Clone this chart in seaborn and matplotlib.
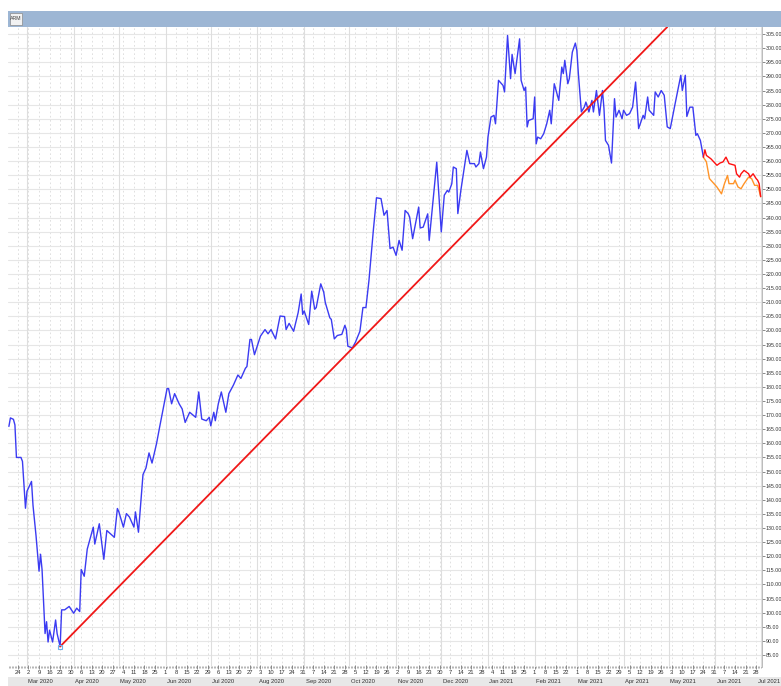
import numpy as np
import pandas as pd
import matplotlib
matplotlib.use('Agg')
import matplotlib.pyplot as plt
import matplotlib.dates as mdates
import matplotlib.ticker as mticker
from matplotlib import font_manager
from matplotlib.patches import Rectangle
from matplotlib.transforms import Bbox, TransformedBbox, blended_transform_factory
import seaborn as sns

# ---- data ----
blue_dates = [
    '2020-02-18', '2020-02-19', '2020-02-21', '2020-02-22', '2020-02-23', '2020-02-26', '2020-02-27', '2020-02-29',
    '2020-03-01', '2020-03-04', '2020-03-05', '2020-03-07', '2020-03-09', '2020-03-10', '2020-03-11', '2020-03-13',
    '2020-03-14', '2020-03-15', '2020-03-16', '2020-03-18', '2020-03-20', '2020-03-21', '2020-03-23', '2020-03-24',
    '2020-03-26', '2020-03-29', '2020-04-01', '2020-04-03', '2020-04-05', '2020-04-06', '2020-04-08', '2020-04-10',
    '2020-04-14', '2020-04-15', '2020-04-18', '2020-04-21', '2020-04-23', '2020-04-28', '2020-04-30', '2020-05-01',
    '2020-05-04', '2020-05-06', '2020-05-08', '2020-05-11', '2020-05-12', '2020-05-14', '2020-05-17', '2020-05-19',
    '2020-05-21', '2020-05-23', '2020-05-26', '2020-05-28', '2020-06-02', '2020-06-03', '2020-06-05', '2020-06-07',
    '2020-06-10', '2020-06-12', '2020-06-14', '2020-06-17', '2020-06-21', '2020-06-23', '2020-06-25', '2020-06-28',
    '2020-06-30', '2020-07-01', '2020-07-03', '2020-07-04', '2020-07-06', '2020-07-08', '2020-07-11', '2020-07-13',
    '2020-07-16', '2020-07-19', '2020-07-21', '2020-07-24', '2020-07-25', '2020-07-27', '2020-07-28', '2020-07-30',
    '2020-08-03', '2020-08-06', '2020-08-08', '2020-08-10', '2020-08-13', '2020-08-16', '2020-08-19', '2020-08-20',
    '2020-08-22', '2020-08-25', '2020-08-28', '2020-08-30', '2020-08-31', '2020-09-01', '2020-09-04', '2020-09-06',
    '2020-09-08', '2020-09-09', '2020-09-12', '2020-09-14', '2020-09-15', '2020-09-18', '2020-09-19', '2020-09-21',
    '2020-09-23', '2020-09-26', '2020-09-28', '2020-09-29', '2020-09-30', '2020-10-03', '2020-10-05', '2020-10-08',
    '2020-10-10', '2020-10-12', '2020-10-14', '2020-10-17', '2020-10-19', '2020-10-22', '2020-10-24', '2020-10-26',
    '2020-10-28', '2020-10-30', '2020-11-01', '2020-11-03', '2020-11-05', '2020-11-07', '2020-11-09', '2020-11-10',
    '2020-11-12', '2020-11-16', '2020-11-17', '2020-11-19', '2020-11-22', '2020-11-23', '2020-11-28', '2020-12-01',
    '2020-12-03', '2020-12-05', '2020-12-06', '2020-12-08', '2020-12-09', '2020-12-11', '2020-12-12', '2020-12-14',
    '2020-12-18', '2020-12-20', '2020-12-23', '2020-12-24', '2020-12-26', '2020-12-27', '2020-12-29', '2020-12-31',
    '2021-01-01', '2021-01-03', '2021-01-05', '2021-01-06', '2021-01-08', '2021-01-11', '2021-01-12', '2021-01-14',
    '2021-01-16', '2021-01-17', '2021-01-19', '2021-01-22', '2021-01-23', '2021-01-25', '2021-01-26', '2021-01-27',
    '2021-01-28', '2021-01-31', '2021-02-01', '2021-02-02', '2021-02-03', '2021-02-05', '2021-02-07', '2021-02-09',
    '2021-02-11', '2021-02-12', '2021-02-14', '2021-02-17', '2021-02-19', '2021-02-20', '2021-02-21', '2021-02-23',
    '2021-02-24', '2021-02-26', '2021-02-28', '2021-03-01', '2021-03-02', '2021-03-04', '2021-03-06', '2021-03-07',
    '2021-03-09', '2021-03-11', '2021-03-12', '2021-03-14', '2021-03-16', '2021-03-18', '2021-03-19', '2021-03-20',
    '2021-03-22', '2021-03-24', '2021-03-26', '2021-03-27', '2021-03-29', '2021-03-31', '2021-04-01', '2021-04-03',
    '2021-04-05', '2021-04-07', '2021-04-09', '2021-04-11', '2021-04-14', '2021-04-15', '2021-04-17', '2021-04-18',
    '2021-04-21', '2021-04-22', '2021-04-24', '2021-04-26', '2021-04-28', '2021-04-30', '2021-05-02', '2021-05-05',
    '2021-05-09', '2021-05-10', '2021-05-12', '2021-05-13', '2021-05-15', '2021-05-17', '2021-05-19', '2021-05-20',
    '2021-05-22', '2021-05-24',
]
blue_values = [
    166.0, 169.0, 168.5, 166.5, 155.0, 155.0, 153.6, 137.0,
    143.0, 146.5, 138.0, 127.3, 114.7, 120.7, 115.3, 92.6,
    96.8, 89.6, 93.8, 89.6, 97.4, 92.6, 88.0, 101.0,
    101.0, 102.2, 99.8, 101.6, 100.4, 115.3, 112.9, 122.5,
    130.3, 124.3, 131.5, 118.9, 129.1, 126.7, 136.9, 135.7,
    130.3, 135.1, 133.9, 130.3, 135.7, 128.5, 148.9, 151.3,
    156.6, 153.0, 159.9, 165.6, 179.4, 179.4, 174.0, 177.6,
    174.0, 172.2, 167.4, 171.0, 169.2, 178.2, 168.6, 168.0,
    169.2, 166.2, 171.0, 168.0, 174.0, 178.2, 171.0, 177.6,
    180.6, 184.2, 183.0, 186.6, 187.2, 196.8, 196.8, 191.4,
    198.0, 200.3, 198.8, 200.3, 197.0, 205.1, 204.9, 200.3,
    202.5, 199.7, 206.3, 212.9, 205.7, 206.9, 202.1, 213.9,
    207.5, 208.1, 216.5, 213.5, 209.9, 204.5, 203.9, 197.0,
    198.2, 198.6, 201.8, 200.3, 194.4, 193.8, 195.8, 199.7,
    208.1, 208.1, 217.7, 236.0, 247.0, 246.7, 240.8, 242.5,
    229.0, 229.5, 226.6, 231.9, 228.4, 242.5, 241.4, 240.2,
    232.5, 243.7, 236.3, 236.6, 241.3, 231.9, 259.6, 234.9,
    247.9, 249.6, 249.0, 252.0, 257.9, 257.3, 241.4, 249.6,
    263.8, 259.1, 259.1, 257.9, 259.1, 263.2, 257.3, 261.4,
    268.5, 275.6, 276.2, 273.2, 288.6, 286.8, 284.5, 304.5,
    289.2, 297.8, 291.0, 303.3, 288.6, 285.0, 286.2, 272.1,
    274.4, 275.0, 282.7, 266.1, 268.5, 267.9, 269.7, 273.2,
    278.0, 273.2, 287.4, 281.5, 293.3, 291.0, 295.7, 287.4,
    289.2, 298.6, 301.8, 299.2, 291.0, 277.4, 279.2, 280.9,
    277.4, 281.5, 277.4, 285.0, 276.2, 285.0, 278.6, 267.3,
    265.6, 259.3, 282.1, 275.6, 278.0, 275.0, 278.0, 276.2,
    276.8, 279.1, 288.0, 271.5, 276.2, 275.0, 282.7, 278.0,
    276.2, 284.5, 282.7, 285.0, 283.3, 272.1, 271.5, 279.7,
    290.4, 285.0, 290.4, 275.8, 279.1, 279.1, 269.1, 269.7,
    267.3, 261.4,
]

trend_dates = ['2020-03-23', '2021-04-30']
trend_values = [88.0, 307.5]

red_dates = ['2021-05-24', '2021-05-25', '2021-05-26', '2021-05-29', '2021-06-02', '2021-06-04', '2021-06-06',
             '2021-06-08', '2021-06-10', '2021-06-14', '2021-06-15', '2021-06-17', '2021-06-18', '2021-06-20',
             '2021-06-23', '2021-06-24', '2021-06-26', '2021-06-28', '2021-06-29', '2021-06-30', '2021-07-01']
red_values = [261.4, 264.0, 262.0, 260.8, 258.5, 259.3, 259.7,
              261.4, 259.1, 258.5, 255.5, 254.3, 255.5, 256.7,
              255.5, 254.3, 255.5, 253.8, 253.2, 252.0, 247.4]

orange_dates = ['2021-05-24', '2021-05-26', '2021-05-28', '2021-05-30', '2021-06-02', '2021-06-05', '2021-06-07',
                '2021-06-09', '2021-06-10', '2021-06-13', '2021-06-14', '2021-06-16', '2021-06-18', '2021-06-20',
                '2021-06-23', '2021-06-25', '2021-06-27', '2021-06-29', '2021-06-30', '2021-07-01']
orange_values = [261.4, 259.7, 253.8, 252.6, 250.8, 248.4, 252.0,
                 254.9, 252.0, 252.0, 253.2, 250.8, 250.2, 252.0,
                 254.3, 253.8, 251.4, 251.4, 249.6, 247.4]

symbol = 'ARM'

# ---- style ----
sns.set_style('white')
installed = {f.name for f in font_manager.fontManager.ttflist}
small_font = 'Liberation Sans'
for cand in ['Liberation Sans Narrow', 'DejaVu Sans Condensed']:
    if cand in installed:
        small_font = cand
        break
plt.rcParams['font.family'] = [small_font, 'DejaVu Sans']
fs = 3.8

W, H = 781, 686
fig = plt.figure(figsize=(W / 100, H / 100), dpi=100)
ax_l, ax_r, ax_t, ax_b = 8, 762, 27, 667
ax = fig.add_axes([ax_l / W, 1 - ax_b / H, (ax_r - ax_l) / W, (ax_b - ax_t) / H])

bd = pd.to_datetime(blue_dates)
sns.lineplot(x=bd, y=blue_values, ax=ax, color='#3b3bf2', linewidth=1.0, zorder=4)
sns.lineplot(x=pd.to_datetime(trend_dates), y=trend_values, ax=ax, color='#f01818', linewidth=1.3, zorder=5)
sns.lineplot(x=pd.to_datetime(red_dates), y=red_values, ax=ax, color='#ff1010', linewidth=1.0, zorder=4)
sns.lineplot(x=pd.to_datetime(orange_dates), y=orange_values, ax=ax, color='#ff9428', linewidth=1.0, zorder=3)

low = int(np.argmin(blue_values))
ax.plot(bd[low], blue_values[low], marker='s', markersize=3.5, markerfacecolor='none',
        markeredgecolor='#6fb0ea', markeredgewidth=0.8, zorder=6)

# ---- axes ----
x0 = pd.Timestamp('2020-03-01')
ax.set_xlim(x0 - pd.Timedelta(days=12.6), x0 + pd.Timedelta(days=487.9))
ax.set_ylim(80.75, 307.5)

ax.yaxis.tick_right()
ax.yaxis.set_major_locator(mticker.MultipleLocator(5))
ax.yaxis.set_major_formatter(mticker.FormatStrFormatter('%.2f'))
ax.tick_params(axis='y', which='major', right=True, length=1.8, width=0.6, color='#777777',
               labelsize=fs, labelcolor='#333333', pad=0.6)

ax.xaxis.set_major_locator(mdates.WeekdayLocator(byweekday=mdates.MO))
ax.xaxis.set_major_formatter(mticker.FuncFormatter(lambda v, p: str(mdates.num2date(v).day)))
ax.xaxis.set_minor_locator(mdates.DayLocator())
ax.tick_params(axis='x', which='major', bottom=True, direction='inout', length=3, width=0.6,
               color='#777777', labelsize=fs + 0.4, labelcolor='#333333', pad=1)
ax.tick_params(axis='x', which='minor', bottom=True, direction='inout', length=1.5, width=0.5, color='#999999')

ax.grid(False)
ax.yaxis.grid(True, color='#e6e6e6', linewidth=0.8, zorder=0)
ax.xaxis.grid(True, which='major', color='#dadada', linewidth=0.6, linestyle=(0, (2, 3)), zorder=0)
months = pd.date_range('2020-03-01', '2021-07-01', freq='MS')
for m in months:
    ax.axvline(m, color='#dedede', linewidth=0.8, zorder=1)

for side in ['left', 'top', 'bottom']:
    ax.spines[side].set_visible(False)
ax.spines['right'].set_color('#b0b0b0')
ax.spines['right'].set_linewidth(0.6)
ax.set_xlabel('')
ax.set_ylabel('')

# clip the day labels at the plot's left edge
clip = TransformedBbox(Bbox([[ax_l / W, 0], [1, 1]]), fig.transFigure)
for lab in ax.get_xticklabels():
    lab.set_clip_box(clip)
    lab.set_clip_on(True)

# month band under the day numbers (drawn behind the axes)
fig.patches.append(Rectangle((ax_l / W, 0), 1 - ax_l / W, 9 / H, transform=fig.transFigure,
                             facecolor='#e8e8e8', edgecolor='none', zorder=-1))
trans = blended_transform_factory(ax.transData, fig.transFigure)
for m in months[:-1]:
    ax.text(m + pd.Timedelta(days=1), 4.5 / H, m.strftime('%b %Y'), transform=trans, fontsize=fs + 0.4,
            color='#333333', ha='left', va='center', clip_on=False)
fig.text(780 / W, 4.5 / H, months[-1].strftime('%b %Y'), fontsize=fs + 0.4, color='#333333',
         ha='right', va='center')

# header bar with the symbol
fig.patches.append(Rectangle((ax_l / W, 1 - 27 / H), 1 - ax_l / W, 16 / H, transform=fig.transFigure,
                             facecolor='#9db6d4', edgecolor='none', zorder=-1))
fig.patches.append(Rectangle((10 / W, 1 - 25 / H), 12 / W, 12 / H, transform=fig.transFigure,
                             facecolor='#f2f2f2', edgecolor='#8a8a8a', linewidth=0.5, zorder=1))
fig.text(16 / W, 1 - 19 / H, symbol, fontsize=fs, color='#444444', ha='center', va='center')

fig.savefig('out.png', dpi=100, facecolor='white')
